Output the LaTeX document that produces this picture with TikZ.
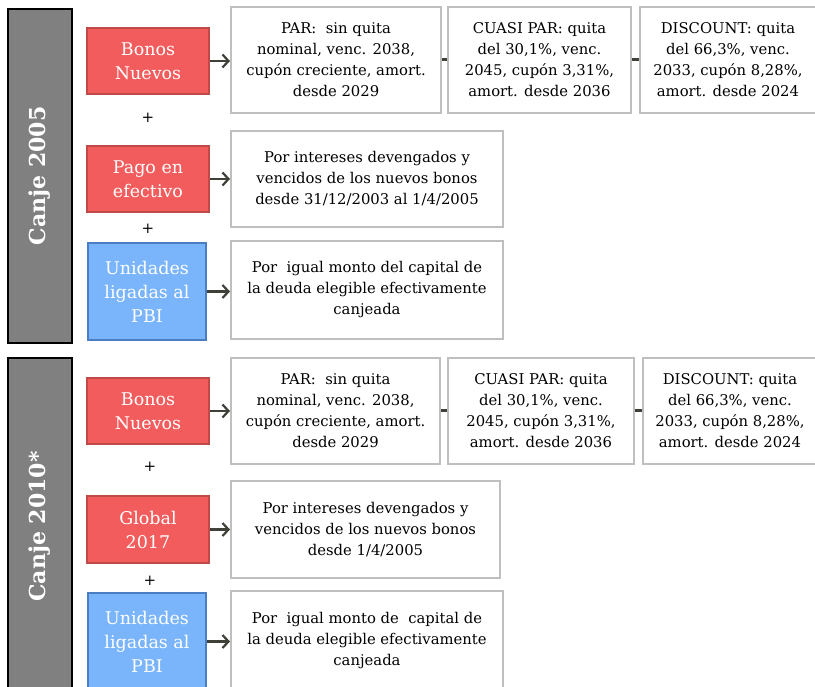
\documentclass[tikz,border=0pt]{standalone}
\usepackage{fontspec}
\setmainfont{DejaVu Serif}
\usetikzlibrary{arrows.meta}

\definecolor{barGray}{RGB}{128,128,128}
\definecolor{bonoRed}{RGB}{242,92,92}
\definecolor{bonoRedLine}{RGB}{190,75,72}
\definecolor{pbiBlue}{RGB}{122,180,250}
\definecolor{pbiBlueLine}{RGB}{75,125,195}
\definecolor{boxLine}{RGB}{191,191,191}
\definecolor{arrowGray}{RGB}{64,64,56}

\tikzset{
    canje/.style={draw=black, line width=2pt, fill=barGray, text=white,
        font=\bfseries\fontsize{22}{26}\selectfont, rotate=90, inner sep=0pt},
    bono/.style={draw=bonoRedLine, line width=1.5pt, fill=bonoRed, text=white,
        align=center, inner sep=0pt, font=\fontsize{17.5}{24}\selectfont},
    pbi/.style={bono, draw=pbiBlueLine, fill=pbiBlue},
    detalle/.style={draw=boxLine, line width=2pt, fill=white, align=center,
        inner sep=0pt, font=\fontsize{14.8}{21}\selectfont},
    flecha/.style={draw=arrowGray, line width=2.2pt, -{Straight Barb[length=6pt,width=13pt]}},
    enlace/.style={draw=arrowGray, line width=3pt},
    mas/.style={font=\fontsize{15}{18}\selectfont}
}

\begin{document}
\begin{tikzpicture}[x=1pt,y=-1pt]
    \useasboundingbox (0,0) rectangle (815,687);

    % barras laterales
    \node[canje, minimum width=334, minimum height=64] (canjeA) at (40,176) {Canje 2005};
    \node[canje, minimum width=337, minimum height=64] (canjeB) at (40,526.5) {Canje 2010*};

    % canje 2005
    \node[bono, minimum width=122, minimum height=66] (bonosA) at (148,61) {Bonos\\Nuevos};
    \node[mas] (masA1) at (148,118) {+};
    \node[bono, minimum width=122, minimum height=66] (pagoA) at (148,179) {Pago en\\efectivo};
    \node[mas] (masA2) at (148,229) {+};
    \node[pbi, minimum width=118, minimum height=97] (pbiA) at (147,291.5) {Unidades\\ligadas al\\PBI};

    \node[detalle, minimum width=210, minimum height=106] (parA) at (336,60)
        {PAR:\ \ sin quita\\nominal, venc. 2038,\\cupón creciente, amort.\\desde 2029};
    \node[detalle, minimum width=183, minimum height=106] (cuasiA) at (539.5,60)
        {CUASI PAR: quita\\del 30,1\%, venc.\\2045, cupón 3,31\%,\\amort. desde 2036};
    \node[detalle, minimum width=176, minimum height=106] (discA) at (728,60)
        {DISCOUNT: quita\\del 66,3\%, venc.\\2033, cupón 8,28\%,\\amort. desde 2024};
    \node[detalle, minimum width=272, minimum height=96] (interA) at (367,179)
        {Por intereses devengados y\\vencidos de los nuevos bonos\\desde 31/12/2003 al 1/4/2005};
    \node[detalle, minimum width=272, minimum height=98] (igualA) at (367,290)
        {Por\ \ igual monto del capital de\\la deuda elegible efectivamente\\canjeada};

    % canje 2010
    \node[bono, minimum width=122, minimum height=66] (bonosB) at (148,411) {Bonos\\Nuevos};
    \node[mas] (masB1) at (150,467) {+};
    \node[bono, minimum width=122, minimum height=67] (globalB) at (148,529.5) {Global\\2017};
    \node[mas] (masB2) at (150,581) {+};
    \node[pbi, minimum width=118, minimum height=97] (pbiB) at (147,641.5) {Unidades\\ligadas al\\PBI};

    \node[detalle, minimum width=209, minimum height=106] (parB) at (335.5,411)
        {PAR:\ \ sin quita\\nominal, venc. 2038,\\cupón creciente, amort.\\desde 2029};
    \node[detalle, minimum width=186, minimum height=106] (cuasiB) at (541,411)
        {CUASI PAR: quita\\del 30,1\%, venc.\\2045, cupón 3,31\%,\\amort. desde 2036};
    \node[detalle, minimum width=174, minimum height=106] (discB) at (730,411)
        {DISCOUNT: quita\\del 66,3\%, venc.\\2033, cupón 8,28\%,\\amort. desde 2024};
    \node[detalle, minimum width=269, minimum height=97] (interB) at (365.5,529.5)
        {Por intereses devengados y\\vencidos de los nuevos bonos\\desde 1/4/2005};
    \node[detalle, minimum width=272, minimum height=99] (igualB) at (367,640.5)
        {Por\ \ igual monto de\ \ capital de\\la deuda elegible efectivamente\\canjeada};

    % flechas
    \draw[flecha] (bonosA.east) -- (bonosA.east -| parA.west);
    \draw[flecha] (pagoA.east) -- (pagoA.east -| interA.west);
    \draw[flecha] (pbiA.east) -- (pbiA.east -| igualA.west);
    \draw[flecha] (bonosB.east) -- (bonosB.east -| parB.west);
    \draw[flecha] (globalB.east) -- (globalB.east -| interB.west);
    \draw[flecha] (pbiB.east) -- (pbiB.east -| igualB.west);

    % enlaces entre bonos
    \draw[enlace] (parA) -- (cuasiA);
    \draw[enlace] (cuasiA) -- (discA);
    \draw[enlace] (parB) -- (cuasiB);
    \draw[enlace] (cuasiB) -- (discB);
\end{tikzpicture}
\end{document}
